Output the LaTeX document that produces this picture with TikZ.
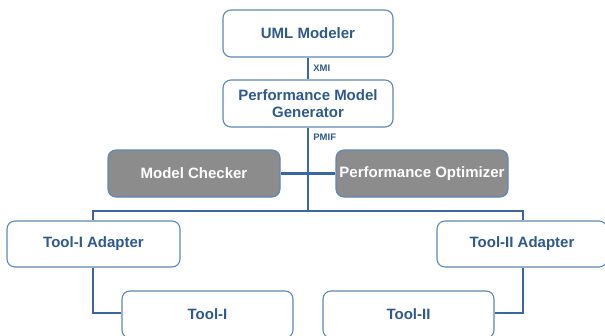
\documentclass[tikz,border=0pt]{standalone}
\usepackage{fontspec}
\setmainfont{Liberation Sans}
\definecolor{boxline}{HTML}{5F88B8}
\definecolor{conn}{HTML}{3A67A0}
\definecolor{txt}{HTML}{2F5A8C}
\definecolor{grayfill}{HTML}{8C8C8C}
\begin{document}
\begin{tikzpicture}[x=1pt,y=-1pt,
  wbox/.style={draw=boxline, line width=1.1pt, fill=white, rounded corners=8pt,
    minimum width=170pt, minimum height=47pt, inner sep=0pt, align=center,
    font=\fontsize{15}{17}\selectfont\bfseries, text=txt},
  gbox/.style={wbox, fill=grayfill, text=white, minimum width=172pt},
  conline/.style={draw=conn, line width=2.8pt},
  lbl/.style={font=\fontsize{9.5}{11}\selectfont\bfseries, text=txt, inner sep=1pt, anchor=west}]
\useasboundingbox (0,0) rectangle (605,335);
\coordinate (barL) at (93,211);
\coordinate (barM) at (308,211);
\coordinate (barR) at (523,211);
\coordinate (cornerL) at (93,313);
\coordinate (cornerR) at (523,313);
\node[wbox] (uml) at (308,33.5) {UML Modeler};
\node[wbox] (pmg) at (308,103.5) {Performance Model\\Generator};
\node[gbox] (mc) at (194,173.5) {Model Checker};
\node[gbox] (po) at (422,173.5) {Performance Optimizer};
\node[wbox, minimum width=173pt, minimum height=46pt] (ta1) at (93.5,244) {Tool-I Adapter};
\node[wbox, minimum height=46pt] (ta2) at (522,244) {Tool-II Adapter};
\node[wbox, minimum width=171pt] (t1) at (207.5,314.5) {Tool-I};
\node[wbox, minimum width=171pt] (t2) at (408.5,314.5) {Tool-II};
\draw[conline] (uml.south) -- node[lbl, xshift=3pt] {XMI} (pmg.north);
\draw[conline] (pmg.south) -- node[lbl, pos=0.12, xshift=3pt] {PMIF} (barM);
\draw[conline] (mc.east) -- (po.west);
\draw[conline, line cap=rect] (barL) -- (barR);
\draw[conline] (barL) -- (ta1.north -| barL);
\draw[conline] (barR) -- (ta2.north -| barR);
\draw[conline, line join=miter] (ta1.south -| cornerL) -- (cornerL) -- (t1.west |- cornerL);
\draw[conline, line join=miter] (ta2.south -| cornerR) -- (cornerR) -- (t2.east |- cornerR);
\end{tikzpicture}
\end{document}
